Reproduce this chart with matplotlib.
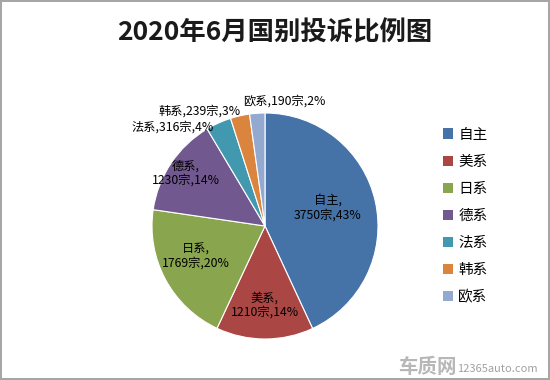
import numpy as np
import matplotlib
matplotlib.use("Agg")
import matplotlib.pyplot as plt
from matplotlib.patches import Patch

plt.rcParams['font.family'] = ['Noto Sans CJK SC', 'DejaVu Sans']

"""Data"""
categories = ["自主", "美系", "日系", "德系", "法系", "韩系", "欧系"]
counts = [3750, 1210, 1769, 1230, 316, 239, 190]
percents = ["43%", "14%", "20%", "14%", "4%", "3%", "2%"]
colors = ["#4572A7", "#AA4643", "#89A54E", "#71588F", "#4198AF", "#DB843D", "#93A9CF"]

# label placement (radius factor, angle tweak in deg, alignment, one or two lines)
label_dist = [0.58, 0.70, 0.67, 0.84, 0.98, 1.04, 1.12]
label_turn = [4, 0, -5, 0, 3, -1, 6]
label_ha = ["center", "center", "center", "center", "right", "right", "left"]
two_lines = [True, True, True, True, False, False, False]

fig = plt.figure(figsize=(5.5, 3.8), dpi=100, edgecolor="#a6a6a6", linewidth=1.5)
ax = fig.add_axes([152/550, 41/380, 226/550, 226/380])

wedges, _ = ax.pie(counts, colors=colors, startangle=90, counterclock=False,
                   wedgeprops=dict(edgecolor="white", linewidth=0.8))
ax.set_xlim(-1, 1)
ax.set_ylim(-1, 1)
ax.set_aspect("equal")

for w, name, n, p, d, t, ha, two in zip(wedges, categories, counts, percents,
                                       label_dist, label_turn, label_ha, two_lines):
    mid = np.deg2rad((w.theta1 + w.theta2) / 2 + t)
    x, y = d * np.cos(mid), d * np.sin(mid)
    if two:
        s = name + ",\n" + str(n) + "宗," + p
    else:
        s = name + "," + str(n) + "宗," + p
    ax.text(x, y, s, ha=ha, va="center", fontsize=8.8, linespacing=1.15)

fig.text(0.5, 1 - 33/380, "2020年6月国别投诉比例图", ha="center", va="center",
         fontsize=19, fontweight="bold", color="#1a1a1a")

handles = [Patch(facecolor=c, edgecolor="none") for c in colors]
fig.legend(handles, categories, loc="center left", bbox_to_anchor=(430/550, 1 - 216/380),
           frameon=False, fontsize=10.5, handlelength=0.7, handleheight=0.7,
           handletextpad=0.35, labelspacing=0.9)

# watermark
fig.text(398/550, 1 - 367/380, "车质网", ha="left", va="center", fontsize=14,
         fontweight="bold", color="#b0b0b0", alpha=0.9)
fig.text(457/550, 1 - 369/380, "12365auto.com", ha="left", va="center", fontsize=8,
         color="#a0a0a0")

fig.savefig("out.png", dpi=100, edgecolor=fig.get_edgecolor())
